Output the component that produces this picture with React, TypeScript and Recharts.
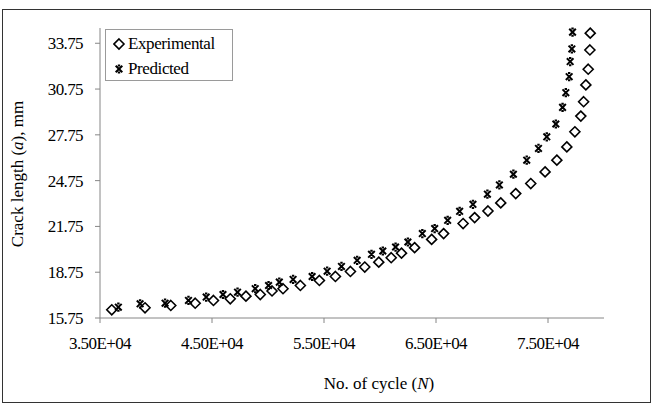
import { ScatterChart, Scatter, XAxis, YAxis, Legend } from "recharts";

// cycles (N) and crack length (a, mm)
const expN = [
  36050, 39020, 41320, 43500, 45130, 46630, 48030, 49310, 50360, 51340, 52890, 54590,
  56020, 57360, 58640, 59890, 61000, 61920, 63090, 64610, 65680, 67420, 68450, 69640,
  70780, 72120, 73460, 74740, 75790, 76680, 77400, 77930, 78180, 78380, 78590, 78740, 78770
];
const expA = [
  16.29, 16.42, 16.57, 16.72, 16.9, 17.01, 17.18, 17.29, 17.52, 17.67, 17.88, 18.21,
  18.47, 18.8, 19.09, 19.41, 19.7, 20.0, 20.36, 20.9, 21.28, 21.94, 22.33, 22.76,
  23.29, 23.9, 24.56, 25.32, 26.09, 26.96, 27.95, 28.98, 29.92, 31.02, 32.05, 33.31, 34.41
];
const predN = [
  36640, 38580, 40810, 42900, 44480, 45980, 47280, 48860, 50050, 51010, 52240, 53940,
  55280, 56560, 57960, 59240, 60250, 61390, 62490, 63780, 64880, 66040, 67110, 68300,
  69590, 70660, 71910, 73100, 74150, 74890, 75700, 76300, 76590, 76890, 76980, 77130, 77190
];
const predA = [
  16.46, 16.68, 16.72, 16.9, 17.12, 17.29, 17.44, 17.67, 17.88, 18.1, 18.28, 18.47,
  18.82, 19.13, 19.53, 19.92, 20.14, 20.4, 20.73, 21.28, 21.61, 22.15, 22.74, 23.2,
  23.86, 24.47, 25.17, 26.09, 26.86, 27.62, 28.46, 29.55, 30.51, 31.56, 32.55, 33.38, 34.48
];
const xTicks = [35000, 45000, 55000, 65000, 75000];
const yTicks = [15.75, 18.75, 21.75, 24.75, 27.75, 30.75, 33.75];

const FONT = "Liberation Serif, serif";
const AXIS = "#868686";

const expData = expN.map((n, i) => ({ n, a: expA[i] }));
const predData = predN.map((n, i) => ({ n, a: predA[i] }));

const sci = (v: number) => {
  const [m, e] = v.toExponential(2).split("e");
  return `${m}E${e[0]}${e.slice(1).padStart(2, "0")}`;
};

const Diamond = ({ cx, cy }: any) => (
  <path
    d={`M${cx},${cy - 5}L${cx + 5},${cy}L${cx},${cy + 5}L${cx - 5},${cy}Z`}
    fill="none"
    stroke="#000"
    strokeWidth={1.6}
  />
);

// excel-style star marker: bold x with short caps
const Star = ({ cx, cy }: any) => (
  <path
    d={`M${cx - 3.3},${cy - 3.3}L${cx + 3.3},${cy + 3.3}M${cx + 3.3},${cy - 3.3}L${cx - 3.3},${cy + 3.3}M${cx - 1.2},${cy - 3.6}L${cx + 1.2},${cy - 3.6}M${cx - 1.2},${cy + 3.6}L${cx + 1.2},${cy + 3.6}`}
    fill="none"
    stroke="#000"
    strokeWidth={2}
  />
);

function LegendBox() {
  const row = { display: "flex", alignItems: "center", height: 25, lineHeight: "25px" };
  return (
    <div
      style={{
        border: "1px solid #9a9a9a",
        background: "#fff",
        width: 128,
        height: 52,
        padding: "1px 0 0 7px",
        boxSizing: "border-box",
        fontFamily: FONT,
        fontSize: 17,
        color: "#000",
        letterSpacing: -0.4
      }}
    >
      <div style={row}>
        <svg width={15} height={14}><Diamond cx={6} cy={7} /></svg>
        <span>Experimental</span>
      </div>
      <div style={row}>
        <svg width={15} height={14}><Star cx={6} cy={7} /></svg>
        <span>Predicted</span>
      </div>
    </div>
  );
}

export default function App() {
  return (
    <div style={{ position: "absolute", left: 0, top: 0, width: 656, height: 408, background: "#fff" }}>
      <div
        style={{
          position: "absolute",
          left: 2,
          top: 9,
          width: 649,
          height: 394,
          border: "1.5px solid #333",
          boxSizing: "border-box"
        }}
      />
      <ScatterChart width={656} height={408} margin={{ top: 28, right: 52, bottom: 30, left: 0 }}>
        <XAxis
          type="number"
          dataKey="n"
          domain={[35000, 80000]}
          ticks={xTicks}
          tickFormatter={sci}
          height={60}
          stroke={AXIS}
          tickSize={5}
          tickMargin={14}
          tick={{ fill: "#000", fontFamily: FONT, fontSize: 17, letterSpacing: -0.6 }}
          label={{
            content: () => (
              <text x={379} y={389} textAnchor="middle" fontFamily={FONT} fontSize={17} fill="#000">
                No. of cycle (<tspan fontStyle="italic">N</tspan>)
              </text>
            )
          }}
        />
        <YAxis
          type="number"
          dataKey="a"
          domain={[15.75, 34.75]}
          ticks={yTicks}
          tickFormatter={(v: number) => v.toFixed(2)}
          width={100}
          stroke={AXIS}
          tickSize={5}
          tickMargin={12}
          tick={{ fill: "#000", fontFamily: FONT, fontSize: 17, letterSpacing: -0.6 }}
          label={{
            content: () => (
              <text
                x={0}
                y={0}
                transform="translate(23,174) rotate(-90)"
                textAnchor="middle"
                fontFamily={FONT}
                fontSize={17}
                fill="#000"
              >
                Crack length (<tspan fontStyle="italic">a</tspan>), mm
              </text>
            )
          }}
        />
        <Legend
          layout="vertical"
          verticalAlign="middle"
          align="center"
          wrapperStyle={{ top: 29, left: 105, width: "auto" }}
          content={() => <LegendBox />}
        />
        <Scatter name="Experimental" data={expData} shape={Diamond} isAnimationActive={false} />
        <Scatter name="Predicted" data={predData} shape={Star} isAnimationActive={false} />
      </ScatterChart>
    </div>
  );
}
